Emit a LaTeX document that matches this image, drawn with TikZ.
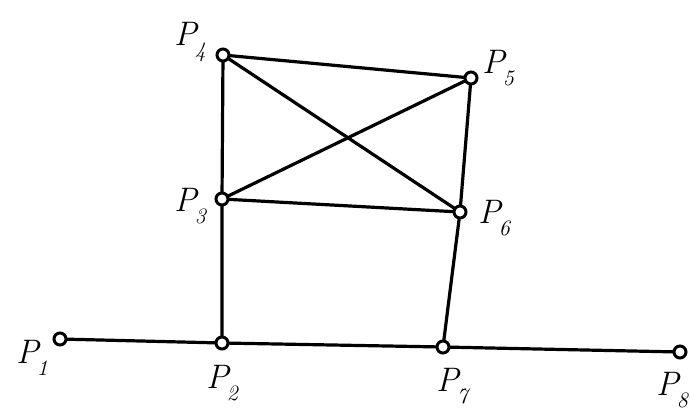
\documentclass[tikz,border=0pt]{standalone}
\usepackage{fontspec}
\newcommand{\plab}[1]{P\kern-0.05em\raisebox{-0.35em}{\fontsize{22}{24}\selectfont #1}}
\begin{document}
\begin{tikzpicture}[x=1pt,y=-1pt,
  vtx/.style={circle,draw,fill=white,line width=3pt,minimum size=12pt,inner sep=0pt},
  edge/.style={line width=3.2pt},
  lbl/.style={font=\fontsize{34}{38}\selectfont\itshape,inner sep=0pt}]
\clip (0,0) rectangle (691,416);
\useasboundingbox (0,0) rectangle (691,416);
\coordinate (P1) at (60,339);
\coordinate (P2) at (222,343);
\coordinate (P7) at (443,347);
\coordinate (P8) at (680,352);
\coordinate (P3) at (222,199);
\coordinate (P4) at (223,55);
\coordinate (P5) at (471,78);
\coordinate (P6) at (460,212);
\draw[edge] (P1) -- (P2) -- (P7) -- (P8);
\draw[edge] (P2) -- (P3) -- (P4) -- (P5) -- (P6) -- (P7);
\draw[edge] (P3) -- (P6);
\draw[edge] (P4) -- (P6);
\draw[edge] (P3) -- (P5);
\foreach \p in {P1,P2,P3,P4,P5,P6,P7,P8} \node[vtx] (n\p) at (\p) {};
\node[lbl] (l1) at (32,358) {\plab{1}};
\node[lbl] (l2) at (222,383) {\plab{2}};
\node[lbl] (l7) at (452,386) {\plab{7}};
\node[lbl] (l8) at (672,390) {\plab{8}};
\node[lbl] (l4) at (190,42) {\plab{4}};
\node[lbl] (l5) at (498,68) {\plab{5}};
\node[lbl] (l3) at (190,206) {\plab{3}};
\node[lbl] (l6) at (494,218) {\plab{6}};
\end{tikzpicture}
\end{document}
